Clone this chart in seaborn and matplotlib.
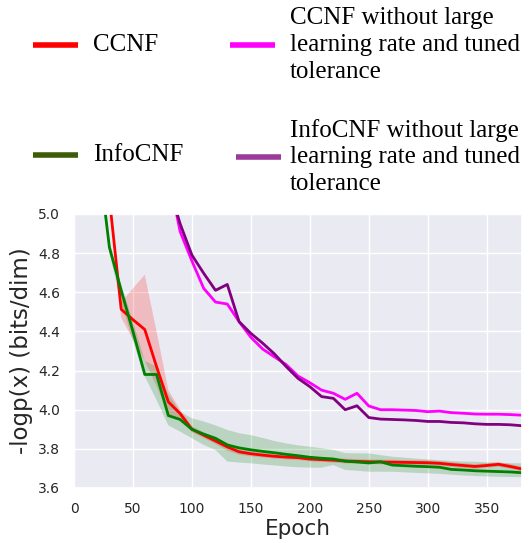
import numpy as np
import pandas as pd
import matplotlib
matplotlib.use("Agg")
import matplotlib.pyplot as plt
from matplotlib.lines import Line2D
import seaborn as sns

# epochs (every 10)
epochs = list(range(0, 390, 10))

# CCNF (red) mean and band
ccnf = [9.0, 7.2, 6.0, 5.08, 4.513, 4.46, 4.41, 4.22, 4.04, 3.98, 3.90, 3.87, 3.84, 3.81,
        3.785, 3.775, 3.768, 3.762, 3.758, 3.755, 3.748, 3.745, 3.742, 3.738, 3.736,
        3.734, 3.733, 3.732, 3.731, 3.730, 3.729, 3.726, 3.72, 3.715, 3.71, 3.715,
        3.721, 3.71, 3.697]
ccnf_lo = [8.9, 7.1, 5.9, 5.06, 4.47, 4.36, 4.25, 4.12, 3.98, 3.95, 3.885, 3.855, 3.825, 3.79,
           3.77, 3.762, 3.756, 3.75, 3.746, 3.743, 3.736, 3.733, 3.73, 3.726, 3.724,
           3.722, 3.721, 3.72, 3.719, 3.718, 3.717, 3.714, 3.708, 3.703, 3.698, 3.703,
           3.709, 3.698, 3.685]
ccnf_hi = [9.1, 7.3, 6.1, 5.10, 4.55, 4.62, 4.69, 4.40, 4.10, 4.00, 3.915, 3.885, 3.86, 3.83,
           3.80, 3.788, 3.78, 3.774, 3.77, 3.767, 3.76, 3.757, 3.754, 3.75, 3.748,
           3.746, 3.745, 3.744, 3.743, 3.742, 3.741, 3.738, 3.732, 3.727, 3.722, 3.727,
           3.733, 3.722, 3.709]

# InfoCNF (green) mean and band
info = [8.5, 6.6, 5.33, 4.83, 4.61, 4.40, 4.18, 4.18, 3.97, 3.95, 3.90, 3.875, 3.854, 3.82,
        3.805, 3.795, 3.787, 3.78, 3.772, 3.765, 3.757, 3.752, 3.748, 3.737, 3.733,
        3.728, 3.734, 3.717, 3.714, 3.711, 3.709, 3.706, 3.695, 3.692, 3.688, 3.686,
        3.684, 3.682, 3.678]
info_lo = [8.4, 6.5, 5.28, 4.80, 4.55, 4.35, 4.17, 4.05, 3.92, 3.888, 3.854, 3.82, 3.794, 3.735,
           3.73, 3.726, 3.72, 3.715, 3.71, 3.706, 3.704, 3.704, 3.717, 3.692, 3.688,
           3.683, 3.683, 3.683, 3.68, 3.677, 3.675, 3.672, 3.668, 3.664, 3.661, 3.659,
           3.657, 3.656, 3.655]
info_hi = [8.6, 6.7, 5.38, 4.86, 4.64, 4.45, 4.25, 4.22, 4.08, 3.99, 3.956, 3.94, 3.92, 3.897,
           3.88, 3.87, 3.856, 3.84, 3.828, 3.818, 3.811, 3.803, 3.795, 3.778, 3.777,
           3.777, 3.768, 3.76, 3.755, 3.75, 3.746, 3.742, 3.738, 3.735, 3.734, 3.731,
           3.728, 3.727, 3.726]

# runs without large learning rate and tuned tolerance
ccnf_plain = [9.5, 8.0, 7.0, 6.2, 5.7, 5.45, 5.3, 5.22, 5.21, 4.91, 4.76, 4.62, 4.55, 4.54,
              4.45, 4.37, 4.31, 4.27, 4.23, 4.172, 4.138, 4.10, 4.084, 4.053, 4.084,
              4.019, 4.0, 4.0, 3.998, 3.996, 3.99, 3.993, 3.985, 3.982, 3.978, 3.977,
              3.977, 3.975, 3.972]
info_plain = [9.6, 8.1, 7.1, 6.3, 5.8, 5.5, 5.35, 5.25, 5.15, 4.95, 4.79, 4.697, 4.61, 4.64,
              4.45, 4.39, 4.34, 4.285, 4.22, 4.16, 4.118, 4.067, 4.058, 4.0, 4.02,
              3.96, 3.952, 3.95, 3.948, 3.945, 3.94, 3.94, 3.935, 3.933, 3.928, 3.925,
              3.925, 3.923, 3.918]

series = ["CCNF", "InfoCNF", "CCNF plain", "InfoCNF plain"]
colors = ["red", "green", "#ff00ff", "purple"]

df = pd.concat([
    pd.DataFrame({"Epoch": epochs, "val": v, "run": name})
    for name, v in zip(series, [ccnf, info, ccnf_plain, info_plain])
])

sns.set_theme(style="darkgrid")

fig = plt.figure(figsize=(5.31, 5.43), dpi=100)
ax = fig.add_axes([0.1394, 0.1013, 0.8437, 0.5046])

ax.fill_between(epochs, ccnf_lo, ccnf_hi, color="red", alpha=0.2, linewidth=0)
ax.fill_between(epochs, info_lo, info_hi, color="green", alpha=0.2, linewidth=0)

sns.lineplot(data=df, x="Epoch", y="val", hue="run", palette=dict(zip(series, colors)),
             linewidth=2, legend=False, ax=ax)

ax.set_xlim(0, 380)
ax.set_ylim(3.6, 5.0)
ax.set_xticks(range(0, 400, 50))
ax.set_yticks(np.arange(3.6, 5.01, 0.2))
ax.set_yticklabels([f"{t:.1f}" for t in np.arange(3.6, 5.01, 0.2)])
ax.tick_params(labelsize=10, pad=4)
ax.set_xlabel("Epoch", fontsize=15.5, labelpad=2)
ax.set_ylabel("-logp(x) (bits/dim)", fontsize=16.5, labelpad=4)

# legend drawn above the axes, in a serif face
serif = "Liberation Serif"
leg_colors = ["red", "#3d5c0a", "#ff00ff", "#9b3a9b"]
leg_labels = ["CCNF", "InfoCNF",
              "CCNF without large\nlearning rate and tuned\ntolerance",
              "InfoCNF without large\nlearning rate and tuned\ntolerance"]
W, H = 531.0, 543.0
handles = [(33, 78, 45), (33, 78, 155), (230, 275, 45), (236, 281, 157)]
text_pos = [(93, 45), (93, 155), (290, 45), (290, 157)]
for (x0, x1, yc), (tx, ty), c, lab in zip(handles, text_pos, leg_colors, leg_labels):
    fig.add_artist(Line2D([x0 / W, x1 / W], [1 - yc / H, 1 - yc / H], color=c,
                          linewidth=4, solid_capstyle="butt", transform=fig.transFigure))
    fig.text(tx / W, 1 - ty / H, lab, family=serif, fontsize=18, va="center", ha="left",
             linespacing=1.27, color="black")

fig.savefig("out.png", dpi=100)
